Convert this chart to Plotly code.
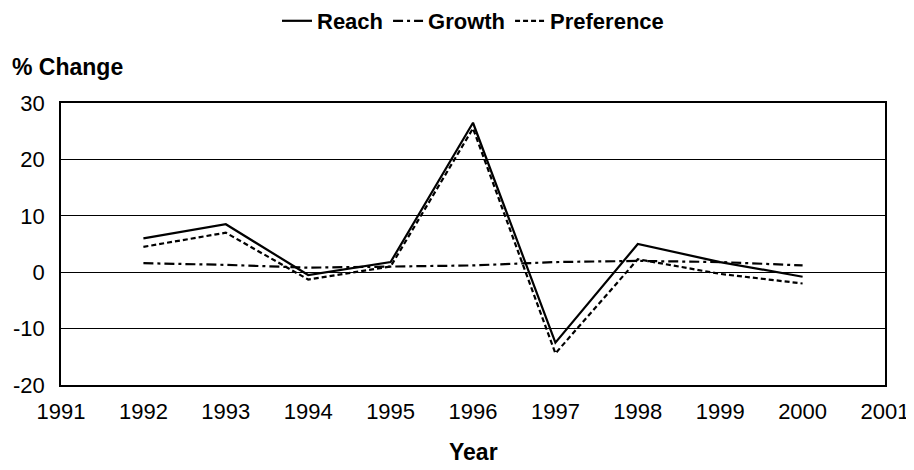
import plotly.graph_objects as go

years = [1992, 1993, 1994, 1995, 1996, 1997, 1998, 1999, 2000]
reach = [6.0, 8.5, -0.5, 1.8, 26.5, -12.5, 5.0, 1.8, -0.8]
growth = [1.6, 1.3, 0.8, 1.0, 1.2, 1.8, 2.0, 1.8, 1.2]
preference = [4.5, 7.0, -1.3, 1.0, 25.5, -14.4, 2.3, -0.3, -2.0]
x_ticks = list(range(1991, 2002))
y_ticks = [-20, -10, 0, 10, 20, 30]

FONT = "Liberation Sans, Arial, sans-serif"
W, H = 906, 462  # page body has an 8px default margin

fig = go.Figure()
fig.add_trace(go.Scatter(x=years, y=reach, name="Reach", mode="lines",
                         line=dict(color="black", width=2.2)))
fig.add_trace(go.Scatter(x=years, y=growth, name="Growth", mode="lines",
                         line=dict(color="black", width=2.2, dash="10px,4px,3px,4px")))
fig.add_trace(go.Scatter(x=years, y=preference, name="Preference", mode="lines",
                         line=dict(color="black", width=2.2, dash="5px,3px")))

fig.update_layout(
    width=W, height=H,
    paper_bgcolor="white", plot_bgcolor="white",
    margin=dict(l=53, r=29, t=95, b=85, autoexpand=False),
    font=dict(family=FONT, size=22, color="black"),
    legend=dict(orientation="h", x=0.5, xanchor="center", y=1 - 13/H, yanchor="middle",
                yref="container", font=dict(size=22, family=FONT, weight="bold"),
                itemwidth=30, traceorder="normal"),
    xaxis=dict(range=[1991, 2001], tickvals=x_ticks, ticktext=[str(v) for v in x_ticks],
               showgrid=False, zeroline=False, showline=True, linecolor="black",
               linewidth=1.5, mirror=True, ticks="", ticklabelstandoff=6,
               automargin=False),
    yaxis=dict(range=[-20, 30], tickvals=y_ticks, ticktext=[str(v) for v in y_ticks],
               showgrid=True, gridcolor="black",
               gridwidth=1, zeroline=True, zerolinecolor="black", zerolinewidth=1,
               showline=True, linecolor="black", linewidth=1.5, mirror=True, ticks="",
               ticklabelstandoff=10, automargin=False),
    annotations=[
        dict(text="<b>% Change</b>", xref="paper", yref="paper", x=(2 - 53)/824, y=1.0,
             xanchor="left", yanchor="middle", yshift=36, showarrow=False,
             font=dict(size=23, family=FONT)),
        dict(text="<b>Year</b>", xref="paper", yref="paper", x=0.5, y=0,
             xanchor="center", yanchor="middle", yshift=-67, showarrow=False,
             font=dict(size=23, family=FONT)),
    ],
)
fig.write_html("out.html")
